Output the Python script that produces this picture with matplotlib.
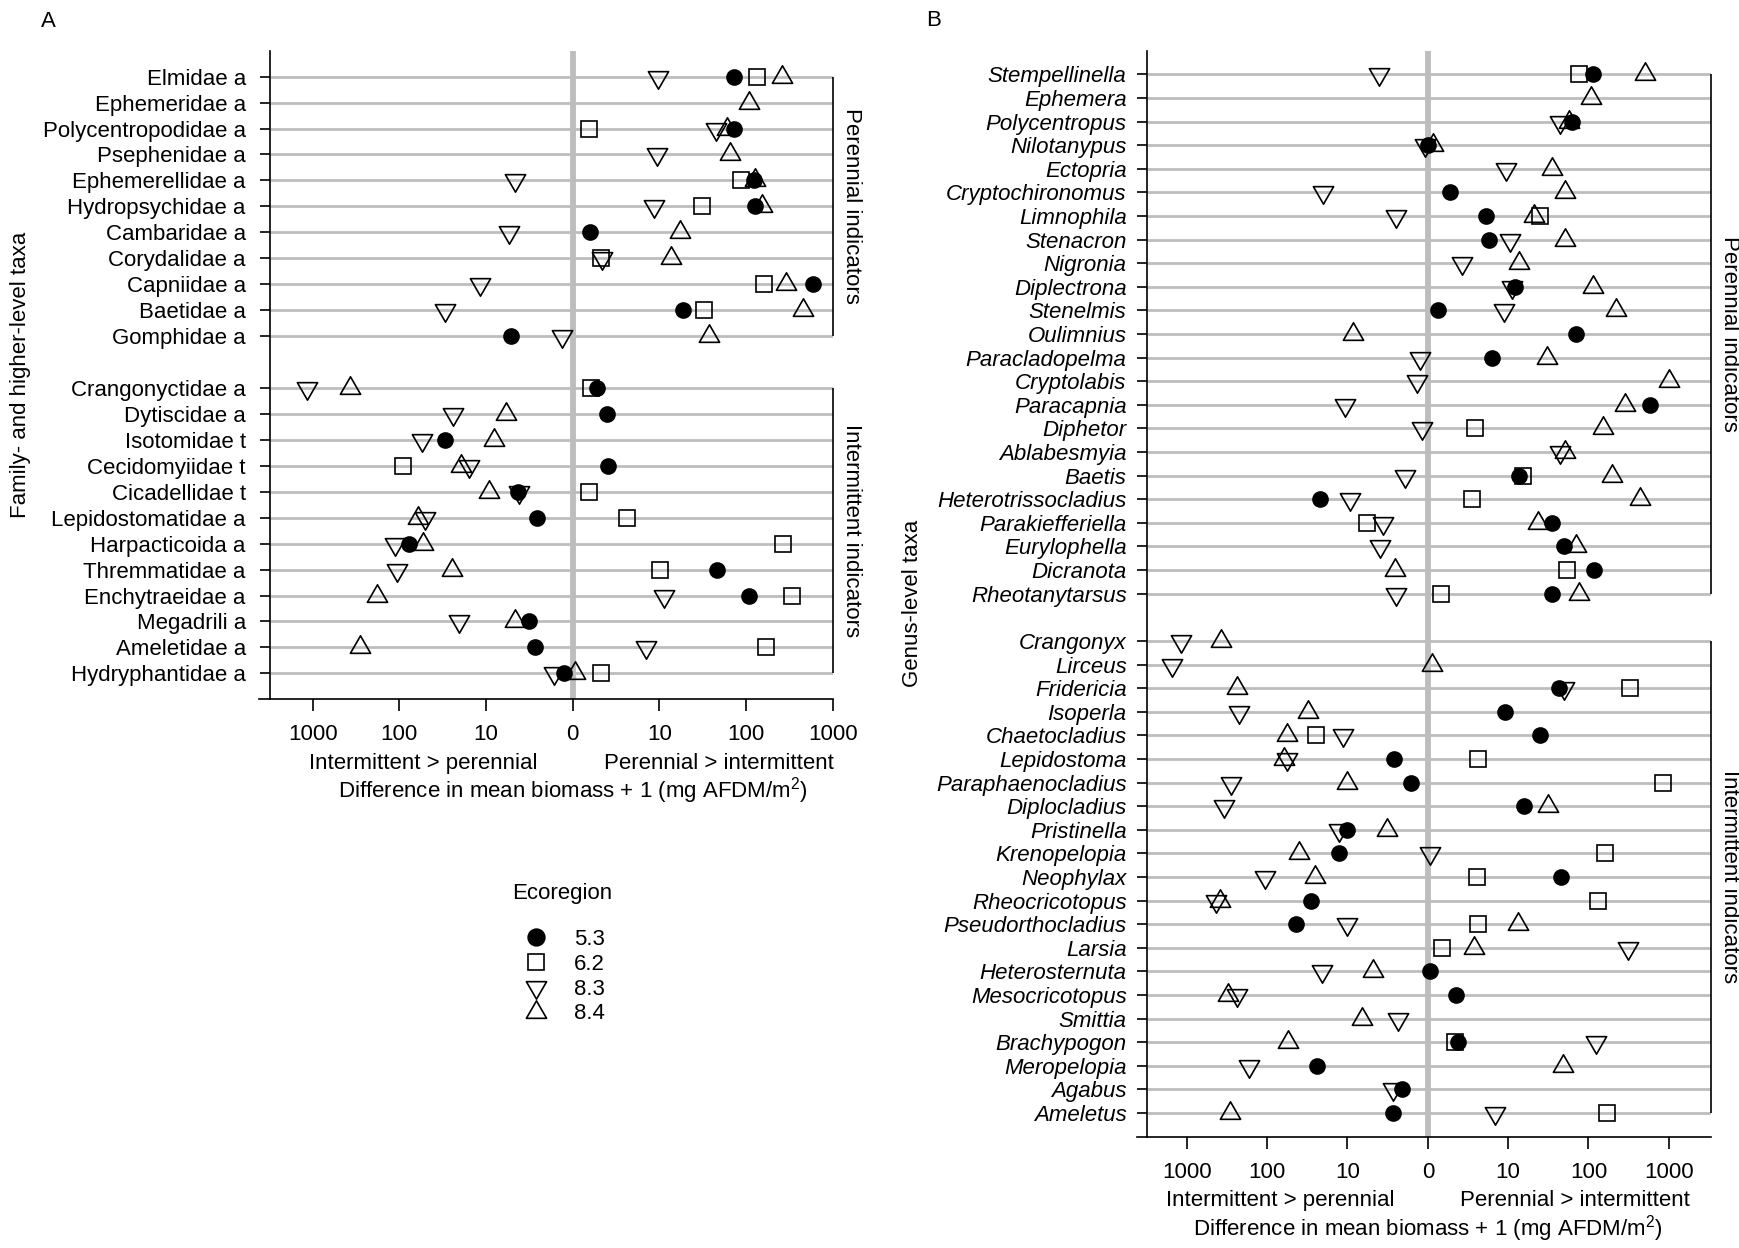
import numpy as np
import matplotlib
matplotlib.use('Agg')
import matplotlib.pyplot as plt
from matplotlib.path import Path
from matplotlib.lines import Line2D

plt.rcParams['font.family'] = ['Liberation Sans', 'DejaVu Sans']
plt.rcParams['mathtext.fontset'] = 'custom'
plt.rcParams['mathtext.rm'] = 'Liberation Sans'
plt.rcParams['font.size'] = 16

nan = np.nan

# ---- panel A: family- and higher-level taxa ----
taxa_a_per = ['Elmidae a', 'Ephemeridae a', 'Polycentropodidae a', 'Psephenidae a',
              'Ephemerellidae a', 'Hydropsychidae a', 'Cambaridae a', 'Corydalidae a',
              'Capniidae a', 'Baetidae a', 'Gomphidae a']
taxa_a_int = ['Crangonyctidae a', 'Dytiscidae a', 'Isotomidae t', 'Cecidomyiidae t',
              'Cicadellidae t', 'Lepidostomatidae a', 'Harpacticoida a', 'Thremmatidae a',
              'Enchytraeidae a', 'Megadrili a', 'Ameletidae a', 'Hydryphantidae a']
# difference in mean biomass (perennial - intermittent), mg AFDM/m2
a_53 = [71, nan, 71, nan, 122, 125, 0.58, nan, 588, 17.6, -4.1,
        0.91, 1.45, -28.5, 1.57, -3.3, -1.6, -77, 45, 106, -2.2, -1.7, -0.26]
a_62 = [131, nan, 0.55, nan, 86, 30, nan, 1.14, 161, 31.4, nan,
        0.62, nan, nan, -90, 0.55, 3.2, 262, 9.2, 338, nan, 169, 1.14]
a_83 = [8.5, nan, 44, 8.3, -3.7, 7.7, -4.5, 1.19, -10.7, -28.5, -0.32,
        -1174, -23, -54, -14.8, -3.2, -50, -111, -106, 10.2, -19.4, 5.9, -0.66]
a_84 = [256, 106, 59, 64, 125, 150, 16.4, 12.5, 287, 446, 36,
        -371, -4.9, -7.1, -18.5, -8.3, -60.7, -53, -23.5, -181, -3.6, -287, 0.07]

# ---- panel B: genus-level taxa ----
taxa_b_per = ['Stempellinella', 'Ephemera', 'Polycentropus', 'Nilotanypus', 'Ectopria',
              'Cryptochironomus', 'Limnophila', 'Stenacron', 'Nigronia', 'Diplectrona',
              'Stenelmis', 'Oulimnius', 'Paracladopelma', 'Cryptolabis', 'Paracapnia',
              'Diphetor', 'Ablabesmyia', 'Baetis', 'Heterotrissocladius',
              'Parakiefferiella', 'Eurylophella', 'Dicranota', 'Rheotanytarsus']
taxa_b_int = ['Crangonyx', 'Lirceus', 'Fridericia', 'Isoperla', 'Chaetocladius',
              'Lepidostoma', 'Paraphaenocladius', 'Diplocladius', 'Pristinella',
              'Krenopelopia', 'Neophylax', 'Rheocricotopus', 'Pseudorthocladius', 'Larsia',
              'Heterosternuta', 'Mesocricotopus', 'Smittia', 'Brachypogon', 'Meropelopia',
              'Agabus', 'Ameletus']
b_53 = [114, nan, 60.7, 0.0, nan, 0.9, 4.25, 4.75, nan, 11, 0.35, 68.2, 5.3, nan, 588,
        nan, nan, 12.8, -20.9, 33.7, 48, 116.5, 33.7,
        nan, nan, 41.7, 8.1, 24.1, -1.63, -0.62, 14.8, -9.2, -11.9, 44.7, -27.8, -42.7,
        nan, 0.07, 1.24, nan, 1.4, -23, -1.09, -1.69]
b_62 = [74.9, nan, nan, nan, nan, nan, 24.1, nan, nan, nan, nan, nan, nan, nan, nan,
        2.89, nan, 14.5, 2.55, -4.75, nan, 52.7, 0.48,
        nan, nan, 323, nan, -23.5, 3.27, 850, nan, nan, 161, 3.07, 131, 3.27,
        0.51, nan, nan, nan, 1.19, nan, nan, 169]
b_83 = [-3.07, nan, 42.7, -0.07, 8.3, -19.4, -1.46, 9.5, 1.63, 10.2, 7.9, nan, -0.26,
        -0.35, -9.7, -0.17, 43.7, -0.9, -8.3, -2.63, -2.98, nan, -1.51,
        -1174, -1513, 48, -223, -10.5, -55.2, -281, -346, -11.9, 0.05, -106, -426, -9.2,
        308, -19.9, -239, -1.34, 122, -165, -1.75, 5.9]
b_84 = [500, 106, 56.5, 0.17, 33.7, 50.3, 19.9, 50.3, 12.5, 114, 218, -7.5, 29.2, 999,
        287, 150, 50.3, 194, 436, 22.4, 68.2, -1.57, 74.9,
        -379, 0.12, -239, -29.9, -55.2, -60.7, -9, 30.6, -2.24, -38.8, -24.1, -388, 12.2,
        2.8, -3.79, -308, -5.6, -54, 46.9, nan, -287]

ecoregions = ['5.3', '6.2', '8.3', '8.4']
tick_vals = [-999, -99, -9, 0, 9, 99, 999]
tick_labels = ['1000', '100', '10', '0', '10', '100', '1000']


def fwd(x):
    x = np.asarray(x, dtype=float)
    return np.sign(x) * np.log10(np.abs(x) + 1)


def inv(y):
    y = np.asarray(y, dtype=float)
    return np.sign(y) * (10 ** np.abs(y) - 1)


tri_up = Path([(0, 1), (0.866, -0.5), (-0.866, -0.5), (0, 1)], closed=True)
tri_dn = Path([(0, -1), (0.866, 0.5), (-0.866, 0.5), (0, -1)], closed=True)
# ecoregion -> (marker, size, face)
styles = {'5.3': ('o', 10.8, 'black'),
          '6.2': ('s', 12, 'none'),
          '8.3': (tri_dn, 16.8, 'none'),
          '8.4': (tri_up, 16.8, 'none')}
GRAY = '#bdbdbd'


def panel(ax, taxa_per, taxa_int, series, xr, italic, ypad, sub_x):
    n_per, n_int = len(taxa_per), len(taxa_int)
    ypos = np.r_[np.arange(n_per), np.arange(n_int) + n_per + 1]
    ax.set_xscale('function', functions=(fwd, inv))
    ax.set_xlim(inv(-3.62), inv(xr))
    ax.set_ylim(n_per + n_int + 1, -1)
    left, right = inv(-3.49), inv(xr)

    ax.hlines(ypos, left, right, colors=GRAY, lw=2.0, zorder=1)
    ax.axvline(0, color=GRAY, lw=4.2, zorder=1.5)
    for a, b in [(ypos[0], ypos[n_per - 1]), (ypos[n_per], ypos[-1])]:
        ax.vlines(right, a, b, colors='black', lw=1.2, clip_on=False)

    for eco in ['6.2', '8.3', '8.4', '5.3']:
        m, ms, fc = styles[eco]
        ax.plot(series[eco], ypos, ls='none', marker=m, ms=ms, mfc=fc, mec='black',
                mew=1.2, zorder=3, clip_on=False)

    ax.spines['top'].set_visible(False)
    ax.spines['right'].set_visible(False)
    ax.spines['left'].set_position(('data', left))
    ax.spines['left'].set_linewidth(1.2)
    ax.spines['bottom'].set_linewidth(1.2)

    ax.set_xticks(tick_vals)
    ax.set_xticklabels(tick_labels)
    ax.set_yticks(ypos)
    ax.set_yticklabels(taxa_per + taxa_int, fontstyle='italic' if italic else 'normal')
    ax.tick_params(axis='x', length=8.6, width=1.2, pad=9.4, labelsize=16)
    ax.tick_params(axis='y', length=7.5, width=1.2, pad=ypad, labelsize=16)
    ax.minorticks_off()

    for txt, xp in [('Intermittent > perennial', sub_x[0]),
                    ('Perennial > intermittent', sub_x[1])]:
        ax.annotate(txt, xy=(inv(xp), 0), xycoords=('data', 'axes fraction'),
                    xytext=(0, -46), textcoords='offset points',
                    ha='center', va='center', annotation_clip=False)
    ax.annotate(r'Difference in mean biomass + 1 (mg AFDM/m$^2$)', xy=(0, 0),
                xycoords=('data', 'axes fraction'), xytext=(0, -66),
                textcoords='offset points', ha='center', va='center',
                annotation_clip=False)

    groups = [('Perennial indicators', (n_per - 1) / 2),
              ('Intermittent indicators', n_per + 1 + (n_int - 1) / 2)]
    for txt, yc in groups:
        ax.annotate(txt, xy=(right, yc), xycoords='data', xytext=(13.5, 0),
                    textcoords='offset points', rotation=-90, ha='center',
                    va='center', annotation_clip=False)


W, H = 1740, 1248
fig = plt.figure(figsize=(W / 100, H / 100), dpi=100)
ax_a = fig.add_axes([258.9 / W, 1 - 699.3 / H, 574.0 / W, 648.6 / H])
ax_b = fig.add_axes([1137.0 / W, 1 - 1136.7 / H, 573.6 / W, 1086.0 / H])

panel(ax_a, taxa_a_per, taxa_a_int,
      {'5.3': a_53, '6.2': a_62, '8.3': a_83, '8.4': a_84},
      3.0, False, 10, (-1.73, 1.69))
panel(ax_b, taxa_b_per, taxa_b_int,
      {'5.3': b_53, '6.2': b_62, '8.3': b_83, '8.4': b_84},
      3.52, True, 7.5, (-1.84, 1.83))

fig.text(48 / W, 1 - 21.7 / H, 'A', ha='center', va='center', fontsize=16)
fig.text(934 / W, 1 - 20 / H, 'B', ha='center', va='center', fontsize=16)
fig.text(21 / W, 1 - 375 / H, 'Family- and higher-level taxa', rotation=90,
         ha='center', va='center', fontsize=16)
fig.text(912 / W, 1 - 603 / H, 'Genus-level taxa', rotation=90,
         ha='center', va='center', fontsize=16)

# legend
fig.text(511.7 / W, 1 - 893.3 / H, 'Ecoregion', ha='left', va='center', fontsize=16)
handles = []
for eco in ecoregions:
    m, ms, fc = styles[eco]
    if eco == '5.3':
        ms = 12
    handles.append(Line2D([], [], ls='none', marker=m, ms=ms, mfc=fc, mec='black', mew=1.2))
fig.legend(handles, ecoregions, loc='upper left', bbox_to_anchor=(512 / W, 1 - 929 / H),
           bbox_transform=fig.transFigure, frameon=False, borderpad=0, borderaxespad=0,
           handlelength=2.2, handletextpad=0.59, labelspacing=0.17, fontsize=16)

fig.savefig('out.png', dpi=100)
